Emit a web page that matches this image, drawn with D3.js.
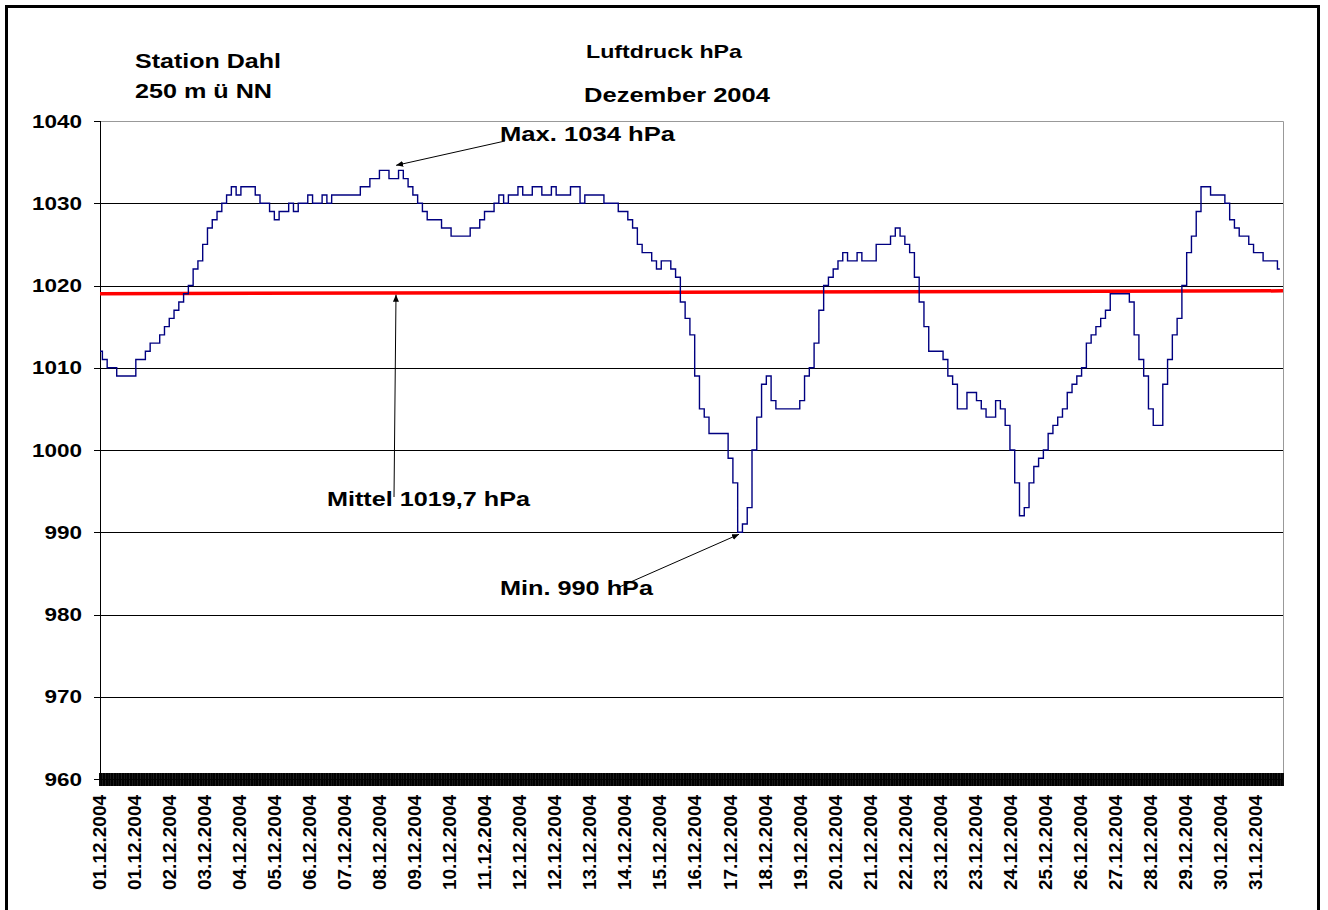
<!DOCTYPE html>
<html>
<head>
<meta charset="utf-8">
<script src="https://cdn.jsdelivr.net/npm/d3@7/dist/d3.min.js"></script>
<style>
body { margin: 0; background: #fff; }
text { font-family: "Liberation Sans", Arial, sans-serif; font-weight: bold; fill: #000; }
</style>
</head>
<body>
<div id="chart"></div>
<script>
// Luftdruck Station Dahl, Dezember 2004 - Werte alle 3 Stunden
var stepHours = 3;
var totalHours = 744;
var pressure = [
    1012, 1011, 1010, 1010, 1009, 1009, 1009, 1009,   // 01.12
    1011, 1011, 1012, 1013, 1013, 1014, 1015, 1016,   // 02.12
    1017, 1018, 1019, 1020, 1022, 1023, 1025, 1027,   // 03.12
    1028, 1029, 1030, 1031, 1032, 1031, 1032, 1032,   // 04.12
    1032, 1031, 1030, 1030, 1029, 1028, 1029, 1029,   // 05.12
    1030, 1029, 1030, 1030, 1031, 1030, 1030, 1031,   // 06.12
    1030, 1031, 1031, 1031, 1031, 1031, 1031, 1032,   // 07.12
    1032, 1033, 1033, 1034, 1034, 1033, 1033, 1034,   // 08.12
    1033, 1032, 1031, 1030, 1029, 1028, 1028, 1028,   // 09.12
    1027, 1027, 1026, 1026, 1026, 1026, 1027, 1027,   // 10.12
    1028, 1029, 1029, 1030, 1031, 1030, 1031, 1031,   // 11.12
    1032, 1031, 1031, 1032, 1032, 1031, 1031, 1032,   // 12.12
    1031, 1031, 1031, 1032, 1032, 1030, 1031, 1031,   // 13.12
    1031, 1031, 1030, 1030, 1030, 1029, 1029, 1028,   // 14.12
    1027, 1025, 1024, 1024, 1023, 1022, 1023, 1023,   // 15.12
    1022, 1021, 1018, 1016, 1014, 1009, 1005, 1004,   // 16.12
    1002, 1002, 1002, 1002, 999, 996, 990, 991,       // 17.12
    993, 1000, 1004, 1008, 1009, 1006, 1005, 1005,    // 18.12
    1005, 1005, 1005, 1006, 1009, 1010, 1013, 1017,   // 19.12
    1020, 1021, 1022, 1023, 1024, 1023, 1023, 1024,   // 20.12
    1023, 1023, 1023, 1025, 1025, 1025, 1026, 1027,   // 21.12
    1026, 1025, 1024, 1021, 1018, 1015, 1012, 1012,   // 22.12
    1012, 1011, 1009, 1008, 1005, 1005, 1007, 1007,   // 23.12
    1006, 1005, 1004, 1004, 1006, 1005, 1003, 1000,   // 24.12
    996, 992, 993, 996, 998, 999, 1000, 1002,         // 25.12
    1003, 1004, 1005, 1007, 1008, 1009, 1010, 1013,   // 26.12
    1014, 1015, 1016, 1017, 1019, 1019, 1019, 1019,   // 27.12
    1018, 1014, 1011, 1009, 1005, 1003, 1003, 1008,   // 28.12
    1011, 1014, 1016, 1020, 1024, 1026, 1029, 1032,   // 29.12
    1032, 1031, 1031, 1031, 1030, 1028, 1027, 1026,   // 30.12
    1026, 1025, 1024, 1024, 1023, 1023, 1023, 1022    // 31.12
];

// Mittelwert-Linie (leicht schraeg wie im Original)
var mittel = [1019.0, 1019.35];

var yTicks = [960, 970, 980, 990, 1000, 1010, 1020, 1030, 1040];
var labelEvery = 22;
var xLabels = ["01.12.2004", "01.12.2004", "02.12.2004", "03.12.2004", "04.12.2004", "05.12.2004",
    "06.12.2004", "07.12.2004", "08.12.2004", "09.12.2004", "10.12.2004", "11.12.2004",
    "12.12.2004", "12.12.2004", "13.12.2004", "14.12.2004", "15.12.2004", "16.12.2004",
    "17.12.2004", "18.12.2004", "19.12.2004", "20.12.2004", "21.12.2004", "22.12.2004",
    "23.12.2004", "23.12.2004", "24.12.2004", "25.12.2004", "26.12.2004", "27.12.2004",
    "28.12.2004", "29.12.2004", "30.12.2004", "31.12.2004"];

var w = 1328, h = 910;
var plotLeft = 100, plotRight = 1283, plotTop = 121, plotBottom = 779;

var svg = d3.select("#chart")
    .append("svg")
    .attr("width", w)
    .attr("height", h);

svg.append("rect")
    .attr("width", w)
    .attr("height", h)
    .attr("fill", "#fff");

// outer frame
svg.append("rect")
    .attr("x", 6.5)
    .attr("y", 6.5)
    .attr("width", 1312)
    .attr("height", 920)
    .attr("fill", "none")
    .attr("stroke", "#000")
    .attr("stroke-width", 3);

var x = d3.scaleLinear().domain([0, totalHours - 1]).range([plotLeft, plotRight]);
var y = d3.scaleLinear().domain([960, 1040]).range([plotBottom, plotTop]);

function addText(g, px, py, str, size, len, anchor) {
    return g.append("text")
        .attr("x", px)
        .attr("y", py)
        .attr("font-size", size)
        .attr("textLength", len)
        .attr("lengthAdjust", "spacingAndGlyphs")
        .attr("text-anchor", anchor || "start")
        .text(str);
}

// gridlines
svg.selectAll(".grid")
    .data(yTicks.filter(function(d) { return d > 960 && d < 1040; }))
    .enter()
    .append("line")
    .attr("class", "grid")
    .attr("x1", plotLeft)
    .attr("x2", plotRight)
    .attr("y1", function(d) { return Math.round(y(d)) + 0.5; })
    .attr("y2", function(d) { return Math.round(y(d)) + 0.5; })
    .attr("stroke", "#000")
    .attr("stroke-width", 1);

// plot border top/right
svg.append("path")
    .attr("d", "M" + plotLeft + "," + (plotTop + 0.5) + "H" + (plotRight + 0.5) + "V" + plotBottom)
    .attr("fill", "none")
    .attr("stroke", "#999")
    .attr("stroke-width", 1);

// y axis
svg.append("line")
    .attr("x1", plotLeft + 0.5).attr("x2", plotLeft + 0.5)
    .attr("y1", plotTop).attr("y2", plotBottom)
    .attr("stroke", "#000");

svg.selectAll(".ytick")
    .data(yTicks)
    .enter()
    .append("line")
    .attr("x1", plotLeft - 6)
    .attr("x2", plotLeft)
    .attr("y1", function(d) { return Math.round(y(d)) + 0.5; })
    .attr("y2", function(d) { return Math.round(y(d)) + 0.5; })
    .attr("stroke", "#000");

svg.selectAll(".ylabel")
    .data(yTicks)
    .enter()
    .append("text")
    .attr("x", 82)
    .attr("y", function(d) { return y(d) + 6.5; })
    .attr("font-size", 18.5)
    .attr("text-anchor", "end")
    .attr("textLength", function(d) { return String(d).length * 12.5; })
    .attr("lengthAdjust", "spacingAndGlyphs")
    .text(function(d) { return d; });

// hourly category ticks on the x axis (so dicht, dass ein schwarzes Band entsteht)
svg.append("g")
    .selectAll("line")
    .data(d3.range(totalHours))
    .enter()
    .append("line")
    .attr("x1", function(d) { return x(d); })
    .attr("x2", function(d) { return x(d); })
    .attr("y1", 773)
    .attr("y2", 786)
    .attr("stroke", "#000")
    .attr("stroke-width", 1.9);

svg.append("line")
    .attr("x1", plotLeft).attr("x2", plotRight)
    .attr("y1", plotBottom + 0.5).attr("y2", plotBottom + 0.5)
    .attr("stroke", "#000");

// x labels, rotated
svg.selectAll(".xlabel")
    .data(xLabels)
    .enter()
    .append("text")
    .attr("class", "xlabel")
    .attr("transform", function(d, i) {
        return "translate(" + (x(i * labelEvery) + 6) + ",795) rotate(-90)";
    })
    .attr("font-size", 17.5)
    .attr("text-anchor", "end")
    .attr("textLength", 95)
    .attr("lengthAdjust", "spacingAndGlyphs")
    .text(function(d) { return d; });

// Mittel line
svg.append("line")
    .attr("x1", x(0))
    .attr("x2", x(totalHours - 1))
    .attr("y1", y(mittel[0]))
    .attr("y2", y(mittel[1]))
    .attr("stroke", "#ff0000")
    .attr("stroke-width", 3.5);

// pressure line, stufig wie die Stundenwerte im Original
var line = d3.line()
    .curve(d3.curveStep)
    .x(function(d, i) { return x(i * stepHours); })
    .y(function(d) { return y(d); });

svg.append("path")
    .datum(pressure)
    .attr("d", line)
    .attr("fill", "none")
    .attr("stroke", "#000080")
    .attr("stroke-width", 1.4);

// titles
addText(svg, 135, 68, "Station Dahl", 21, 146);
addText(svg, 135, 98, "250 m ü NN", 21, 137);
addText(svg, 586, 58, "Luftdruck hPa", 19, 156);
addText(svg, 584, 102, "Dezember 2004", 21, 186);

// annotations with arrows
svg.append("defs").append("marker")
    .attr("id", "arrow")
    .attr("markerUnits", "userSpaceOnUse")
    .attr("markerWidth", 8)
    .attr("markerHeight", 6)
    .attr("refX", 7)
    .attr("refY", 3)
    .attr("orient", "auto")
    .append("path")
    .attr("d", "M0,0L7,3L0,6Z")
    .attr("fill", "#000");

var minIdx = pressure.indexOf(d3.min(pressure));

function arrow(x1, y1, x2, y2) {
    svg.append("line")
        .attr("x1", x1).attr("y1", y1)
        .attr("x2", x2).attr("y2", y2)
        .attr("stroke", "#000")
        .attr("stroke-width", 1)
        .attr("marker-end", "url(#arrow)");
}

arrow(505, 141, x(186), y(1034) - 5);
addText(svg, 500, 141, "Max. " + d3.max(pressure) + " hPa", 21, 175);

addText(svg, 327, 506, "Mittel 1019,7 hPa", 21, 203);
arrow(394, 497, 396, y(mittel[0]) + 1);

addText(svg, 500, 595, "Min. " + d3.min(pressure) + " hPa", 21, 153);
arrow(617, 588, x(minIdx * stepHours) - 1, y(990) + 2);
</script>
</body>
</html>
